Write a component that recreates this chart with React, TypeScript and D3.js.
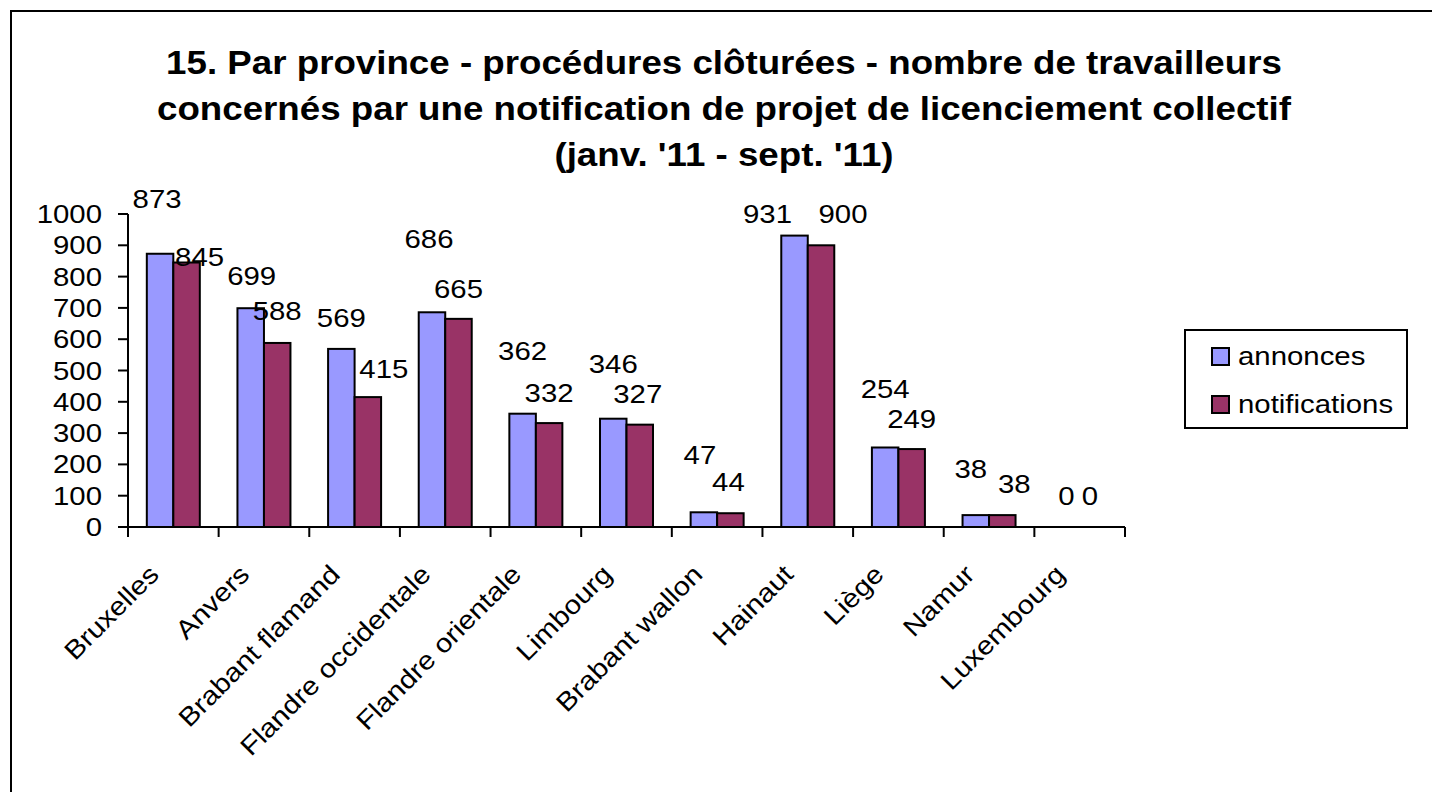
import React from "react";
import * as d3 from "d3";

// data
const provinces = [
  "Bruxelles", "Anvers", "Brabant flamand", "Flandre occidentale", "Flandre orientale",
  "Limbourg", "Brabant wallon", "Hainaut", "Liège", "Namur", "Luxembourg",
];
const annonces = [873, 699, 569, 686, 362, 346, 47, 931, 254, 38, 0];
const notifications = [845, 588, 415, 665, 332, 327, 44, 900, 249, 38, 0];
const yTicks = [0, 100, 200, 300, 400, 500, 600, 700, 800, 900, 1000];
const seriesNames = ["annonces", "notifications"];
const titleLines = [
  "15. Par province - procédures clôturées - nombre de travailleurs",
  "concernés par une notification de projet de licenciement collectif",
  "(janv. '11 - sept. '11)",
];

// label placement quirks copied from the original (px above bar top, px sideways)
const liftA = [46, 23, 22, 64, 54, 46, 48, 13, 49, 37, 22];
const shiftA = [-3, 1, 0, -3, 0, 0, -4, -27, 0, -5, 0];
const liftN = [-3, 23, 19, 21, 21, 22, 22, 22, 21, 22, 22];
const shiftN = [13, 0, 16, 0, 0, -2, -2, 22, 0, 12, -3];

const W = 1432;
const H = 792;
const plot = { left: 128, right: 1125, top: 214, bottom: 527 };
const colors = ["#9999FF", "#993366"];
const FONT = "'Liberation Sans', Arial, sans-serif";
const STRETCH = 1.13; // the original text is drawn a bit wider than it is tall

// text that is stretched horizontally around its anchor point
function T(props: {
  x: number; y: number; size: number; anchor?: string; bold?: boolean; rotate?: number; children: React.ReactNode;
}) {
  const { x, y, size, anchor = "start", bold = false, rotate = 0, children } = props;
  return (
    <text
      transform={`translate(${x},${y}) rotate(${rotate}) scale(${STRETCH},1)`}
      textAnchor={anchor}
      fontSize={size}
      fontWeight={bold ? "bold" : "normal"}
      fill="#000"
    >
      {children}
    </text>
  );
}

export default function App() {
  const x0 = d3.scaleBand<string>().domain(provinces).range([plot.left, plot.right]).padding(0);
  const x1 = d3.scaleBand<string>().domain(seriesNames).range([0, x0.step()]).paddingInner(0).paddingOuter(0.71);
  const y = d3.scaleLinear().domain([0, 1000]).range([plot.bottom, plot.top]);

  const series = [
    { name: "annonces", values: annonces, lift: liftA, shift: shiftA },
    { name: "notifications", values: notifications, lift: liftN, shift: shiftN },
  ];

  const tickXs = d3.range(provinces.length + 1).map((i) => plot.left + i * x0.step());

  return (
    <svg width={W} height={H} style={{ position: "absolute", left: 0, top: 0, background: "#fff" }} fontFamily={FONT}>
      <rect x={11} y={11} width={W + 20} height={H + 20} fill="#fff" stroke="#000" strokeWidth={2} />

      {titleLines.map((t, i) => (
        <T key={i} x={724} y={74 + i * 46} size={32.5} anchor="middle" bold>
          {t}
        </T>
      ))}

      {/* bars */}
      {series.map((s, si) =>
        s.values.map((v, i) => (
          <rect
            key={s.name + i}
            x={(x0(provinces[i]) as number) + (x1(s.name) as number)}
            y={y(v)}
            width={x1.bandwidth()}
            height={plot.bottom - y(v)}
            fill={colors[si]}
            stroke="#000"
            strokeWidth={v > 0 ? 2 : 0}
          />
        ))
      )}

      {/* value labels */}
      {series.map((s) =>
        s.values.map((v, i) => (
          <T
            key={"l" + s.name + i}
            x={(x0(provinces[i]) as number) + (x1(s.name) as number) + x1.bandwidth() / 2 + s.shift[i]}
            y={y(v) - s.lift[i]}
            size={26}
            anchor="middle"
          >
            {v}
          </T>
        ))
      )}

      {/* y axis */}
      <line x1={plot.left} x2={plot.left} y1={plot.top} y2={plot.bottom} stroke="#000" strokeWidth={2} />
      {yTicks.map((t) => (
        <g key={t}>
          <line x1={plot.left - 10} x2={plot.left} y1={y(t)} y2={y(t)} stroke="#000" strokeWidth={2} />
          <T x={plot.left - 26} y={y(t) + 9} size={26} anchor="end">
            {t}
          </T>
        </g>
      ))}

      {/* x axis */}
      <line x1={plot.left - 10} x2={plot.right} y1={plot.bottom} y2={plot.bottom} stroke="#000" strokeWidth={2} />
      {tickXs.map((tx, i) => (
        <line key={i} x1={tx} x2={tx} y1={plot.bottom} y2={plot.bottom + 10} stroke="#000" strokeWidth={2} />
      ))}
      {provinces.map((p) => (
        <T
          key={p}
          x={(x0(p) as number) + x0.bandwidth() / 2 - 13}
          y={plot.bottom + 49}
          size={26}
          anchor="end"
          rotate={-45}
        >
          {p}
        </T>
      ))}

      {/* legend */}
      <rect x={1185} y={330} width={222} height={98} fill="#fff" stroke="#000" strokeWidth={2} />
      {seriesNames.map((n, i) => (
        <g key={n}>
          <rect x={1212} y={348 + i * 48} width={17} height={17} fill={colors[i]} stroke="#000" strokeWidth={2} />
          <T x={1238} y={365 + i * 48} size={26}>
            {n}
          </T>
        </g>
      ))}
    </svg>
  );
}
